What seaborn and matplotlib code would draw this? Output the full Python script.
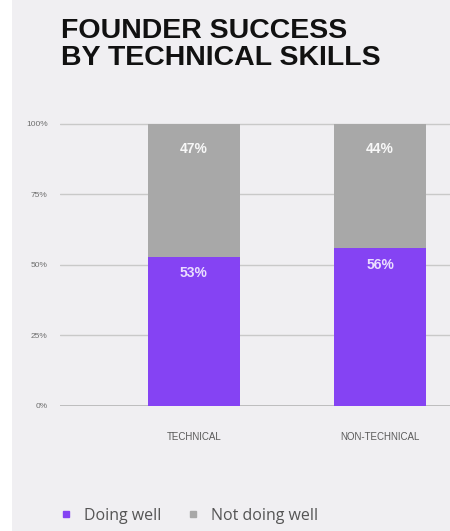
import matplotlib
matplotlib.use("Agg")
import matplotlib.pyplot as plt
import seaborn as sns
import pandas as pd
from matplotlib.lines import Line2D
from matplotlib.patches import Rectangle

categories = ["TECHNICAL", "NON-TECHNICAL"]
doing_well = [53, 56]
not_doing_well = [47, 44]
y_ticks = [0, 25, 50, 75, 100]
y_tick_labels = ["0%", "25%", "50%", "75%", "100%"]
series_names = ["Doing well", "Not doing well"]

purple = "#8543f3"
gray = "#a8a8a8"
bg = "#f0eff2"

sns.set_theme(style="white")
plt.rcParams["font.family"] = ["Liberation Sans", "DejaVu Sans"]

df = pd.DataFrame({
    "category": categories,
    "doing": doing_well,
    "total": [d + n for d, n in zip(doing_well, not_doing_well)],
})

fig = plt.figure(figsize=(4.5, 5.31), dpi=100, facecolor=bg)
fig.patches.append(Rectangle((0, 0), 12 / 450, 1, transform=fig.transFigure,
                             facecolor="white", edgecolor="none", zorder=-1))
ax = fig.add_axes([60 / 450, 1 - 406 / 531, 1 - 60 / 450, (406 - 115.5) / 531])
ax.set_facecolor(bg)

for y in y_ticks[1:]:
    ax.axhline(y, color="#c9c9c9", lw=1.0, zorder=0)
ax.axhline(0, color="#b5b5b5", lw=1.2, zorder=0)

sns.barplot(data=df, x="category", y="total", color=gray, width=0.49,
            saturation=1, linewidth=0, ax=ax, zorder=2)
sns.barplot(data=df, x="category", y="doing", color=purple, width=0.49,
            saturation=1, linewidth=0, ax=ax, zorder=3)

for i, (d, n) in enumerate(zip(doing_well, not_doing_well)):
    ax.annotate(f"{n}%", (i, d + n), xytext=(0, -18), textcoords="offset points",
                ha="center", va="center", color="white", fontsize=10,
                fontweight="bold", alpha=0.92, zorder=5)
    ax.annotate(f"{d}%", (i, d), xytext=(0, -12), textcoords="offset points",
                ha="center", va="center", color="#f3ecff", fontsize=10,
                fontweight="bold", alpha=0.92, zorder=5)

ax.set_xlim(-0.72, 1.376)
ax.set_ylim(0, 103)
ax.set_yticks(y_ticks)
ax.set_yticklabels(y_tick_labels)
ax.set_xlabel("")
ax.set_ylabel("")
for s in ax.spines.values():
    s.set_visible(False)
ax.tick_params(axis="y", length=0, pad=9, labelsize=6, labelcolor="#6e6e6e")
ax.tick_params(axis="x", length=0, pad=19, labelsize=7, labelcolor="#5a5a5a")

fig.text(61 / 450, 1 - 18 / 531, "FOUNDER SUCCESS\nBY TECHNICAL SKILLS",
         ha="left", va="top", fontsize=20.5, fontweight="bold", color="#111111",
         linespacing=1.06)

handles = [
    Line2D([], [], marker="s", linestyle="none", markersize=5, color=purple),
    Line2D([], [], marker="s", linestyle="none", markersize=4.2, color=gray),
]
leg = fig.legend(handles, series_names, loc="center left",
                 bbox_to_anchor=(44 / 450, 1 - 516 / 531), ncol=2, frameon=False,
                 handletextpad=0.6, columnspacing=1.5, handlelength=1.0,
                 prop={"family": "Open Sans", "size": 11.5})
for t in leg.get_texts():
    t.set_color("#555555")

fig.savefig("out.png", dpi=100, facecolor=bg)
